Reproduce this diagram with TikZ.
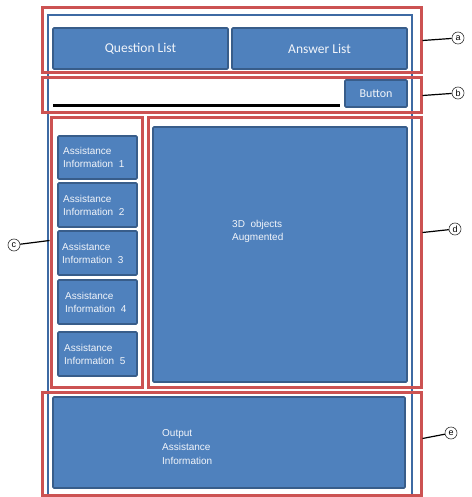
\documentclass[tikz,border=0pt]{standalone}
\usepackage{fontspec}
\setmainfont{Liberation Sans}
\newfontfamily\calib{Carlito}
\definecolor{boxfill}{HTML}{4F81BD}
\definecolor{boxline}{HTML}{385D8A}
\definecolor{frameblue}{HTML}{3D6AA3}
\definecolor{redline}{HTML}{CC5252}
\definecolor{txt}{HTML}{F2F5FA}
\tikzset{
  redbox/.style={draw=redline, line width=3pt, rectangle, inner sep=0pt, outer sep=0pt},
  bluebox/.style={draw=boxline, fill=boxfill, line width=1.6pt, rectangle, inner sep=0pt, outer sep=0pt, rounded corners=1pt},
  btxt/.style={text=txt, font=\calib\fontsize{13.5}{15}\selectfont},
  atxt/.style={text=txt, font=\fontsize{10}{13}\selectfont, align=left, inner sep=0pt},
  lbl/.style={circle, draw=black!80, line width=0.6pt, minimum size=12pt, inner sep=0pt, font=\fontsize{9}{10}\selectfont},
  conn/.style={line width=1.2pt, black}
}
\begin{document}
\begin{tikzpicture}[x=1pt, y=-1pt]
\fill[white] (0,0) rectangle (471,497);
\useasboundingbox (0,0) rectangle (471,497);
\begin{scope}
\clip (0,0) rectangle (471,497);
% outer blue frame
\draw[frameblue, line width=2.2pt] (48,505) -- (48,15) -- (412,15) -- (412,505);
% a
\node[redbox, minimum width=379pt, minimum height=65pt] (ra) at (231.5,40.5) {};
\node[bluebox, minimum width=175pt, minimum height=41pt] (q) at (140.5,48.5) {};
\node[btxt] at (q.center) {Question List};
\node[bluebox, minimum width=175pt, minimum height=41pt] (ans) at (319.5,48.5) {};
\node[btxt] at (ans.center) {Answer List};
% b
\node[redbox, minimum width=379pt, minimum height=35pt] (rb) at (231.5,95.5) {};
\node[bluebox, minimum width=62pt, minimum height=27pt] (btn) at (376,93.5) {};
\node[btxt, font=\calib\fontsize{12}{13}\selectfont] at (btn.center) {Button};
\coordinate (l1) at (53,106);
\coordinate (l2) at (340,106);
\draw[black, line width=3pt] (l1) -- (l2);
% c
\node[redbox, minimum width=91pt, minimum height=269pt] (rc) at (96.5,252.5) {};
\node[bluebox, minimum width=79pt, minimum height=43pt] (a1) at (97.5,157.5) {};
\node[bluebox, minimum width=79pt, minimum height=44pt] (a2) at (97.5,205) {};
\node[bluebox, minimum width=79pt, minimum height=44pt] (a3) at (97.5,253) {};
\node[bluebox, minimum width=79pt, minimum height=44pt] (a4) at (97.5,302) {};
\node[bluebox, minimum width=79pt, minimum height=44pt] (a5) at (97.5,354) {};
\node[atxt, anchor=west] at (63,157.5) {Assistance\\Information\ \ 1};
\node[atxt, anchor=west] at (63,205) {Assistance\\Information\ \ 2};
\node[atxt, anchor=west] at (62,253) {Assistance\\Information\ \ 3};
\node[atxt, anchor=west] at (65,302) {Assistance\\Information\ \ 4};
\node[atxt, anchor=west] at (64,354) {Assistance\\Information\ \ 5};
% d
\node[redbox, minimum width=273pt, minimum height=269pt] (rd) at (284.5,252.5) {};
\node[bluebox, minimum width=254pt, minimum height=255pt] (obj) at (280,254.5) {};
\node[atxt, anchor=west] at (232,231.5) {3D\ \ objects\\Augmented};
% e
\node[redbox, minimum width=379pt, minimum height=103pt] (re) at (231.5,443.5) {};
\node[bluebox, minimum width=352pt, minimum height=91pt] (out) at (229,442.5) {};
\node[atxt, anchor=west, font=\fontsize{10}{14}\selectfont] at (162,447) {Output\\Assistance\\Information};
\end{scope}
% labels
\node[lbl] (la) at (458,38) {a};
\node[lbl] (lb) at (458,93) {b};
\node[lbl] (lc) at (14,245) {c};
\node[lbl] (ld) at (455,229) {d};
\node[lbl] (le) at (451,433) {e};
\draw[conn] ([xshift=1.5pt]ra.east) -- (la);
\draw[conn] ([xshift=1.5pt]rb.east) -- (lb);
\draw[conn] (lc) -- ([yshift=12pt, xshift=-1.5pt]rc.west);
\draw[conn] ([yshift=20pt, xshift=1.5pt]rd.east) -- (ld);
\draw[conn] ([yshift=5pt, xshift=1.5pt]re.east) -- (le);
\end{tikzpicture}
\end{document}
